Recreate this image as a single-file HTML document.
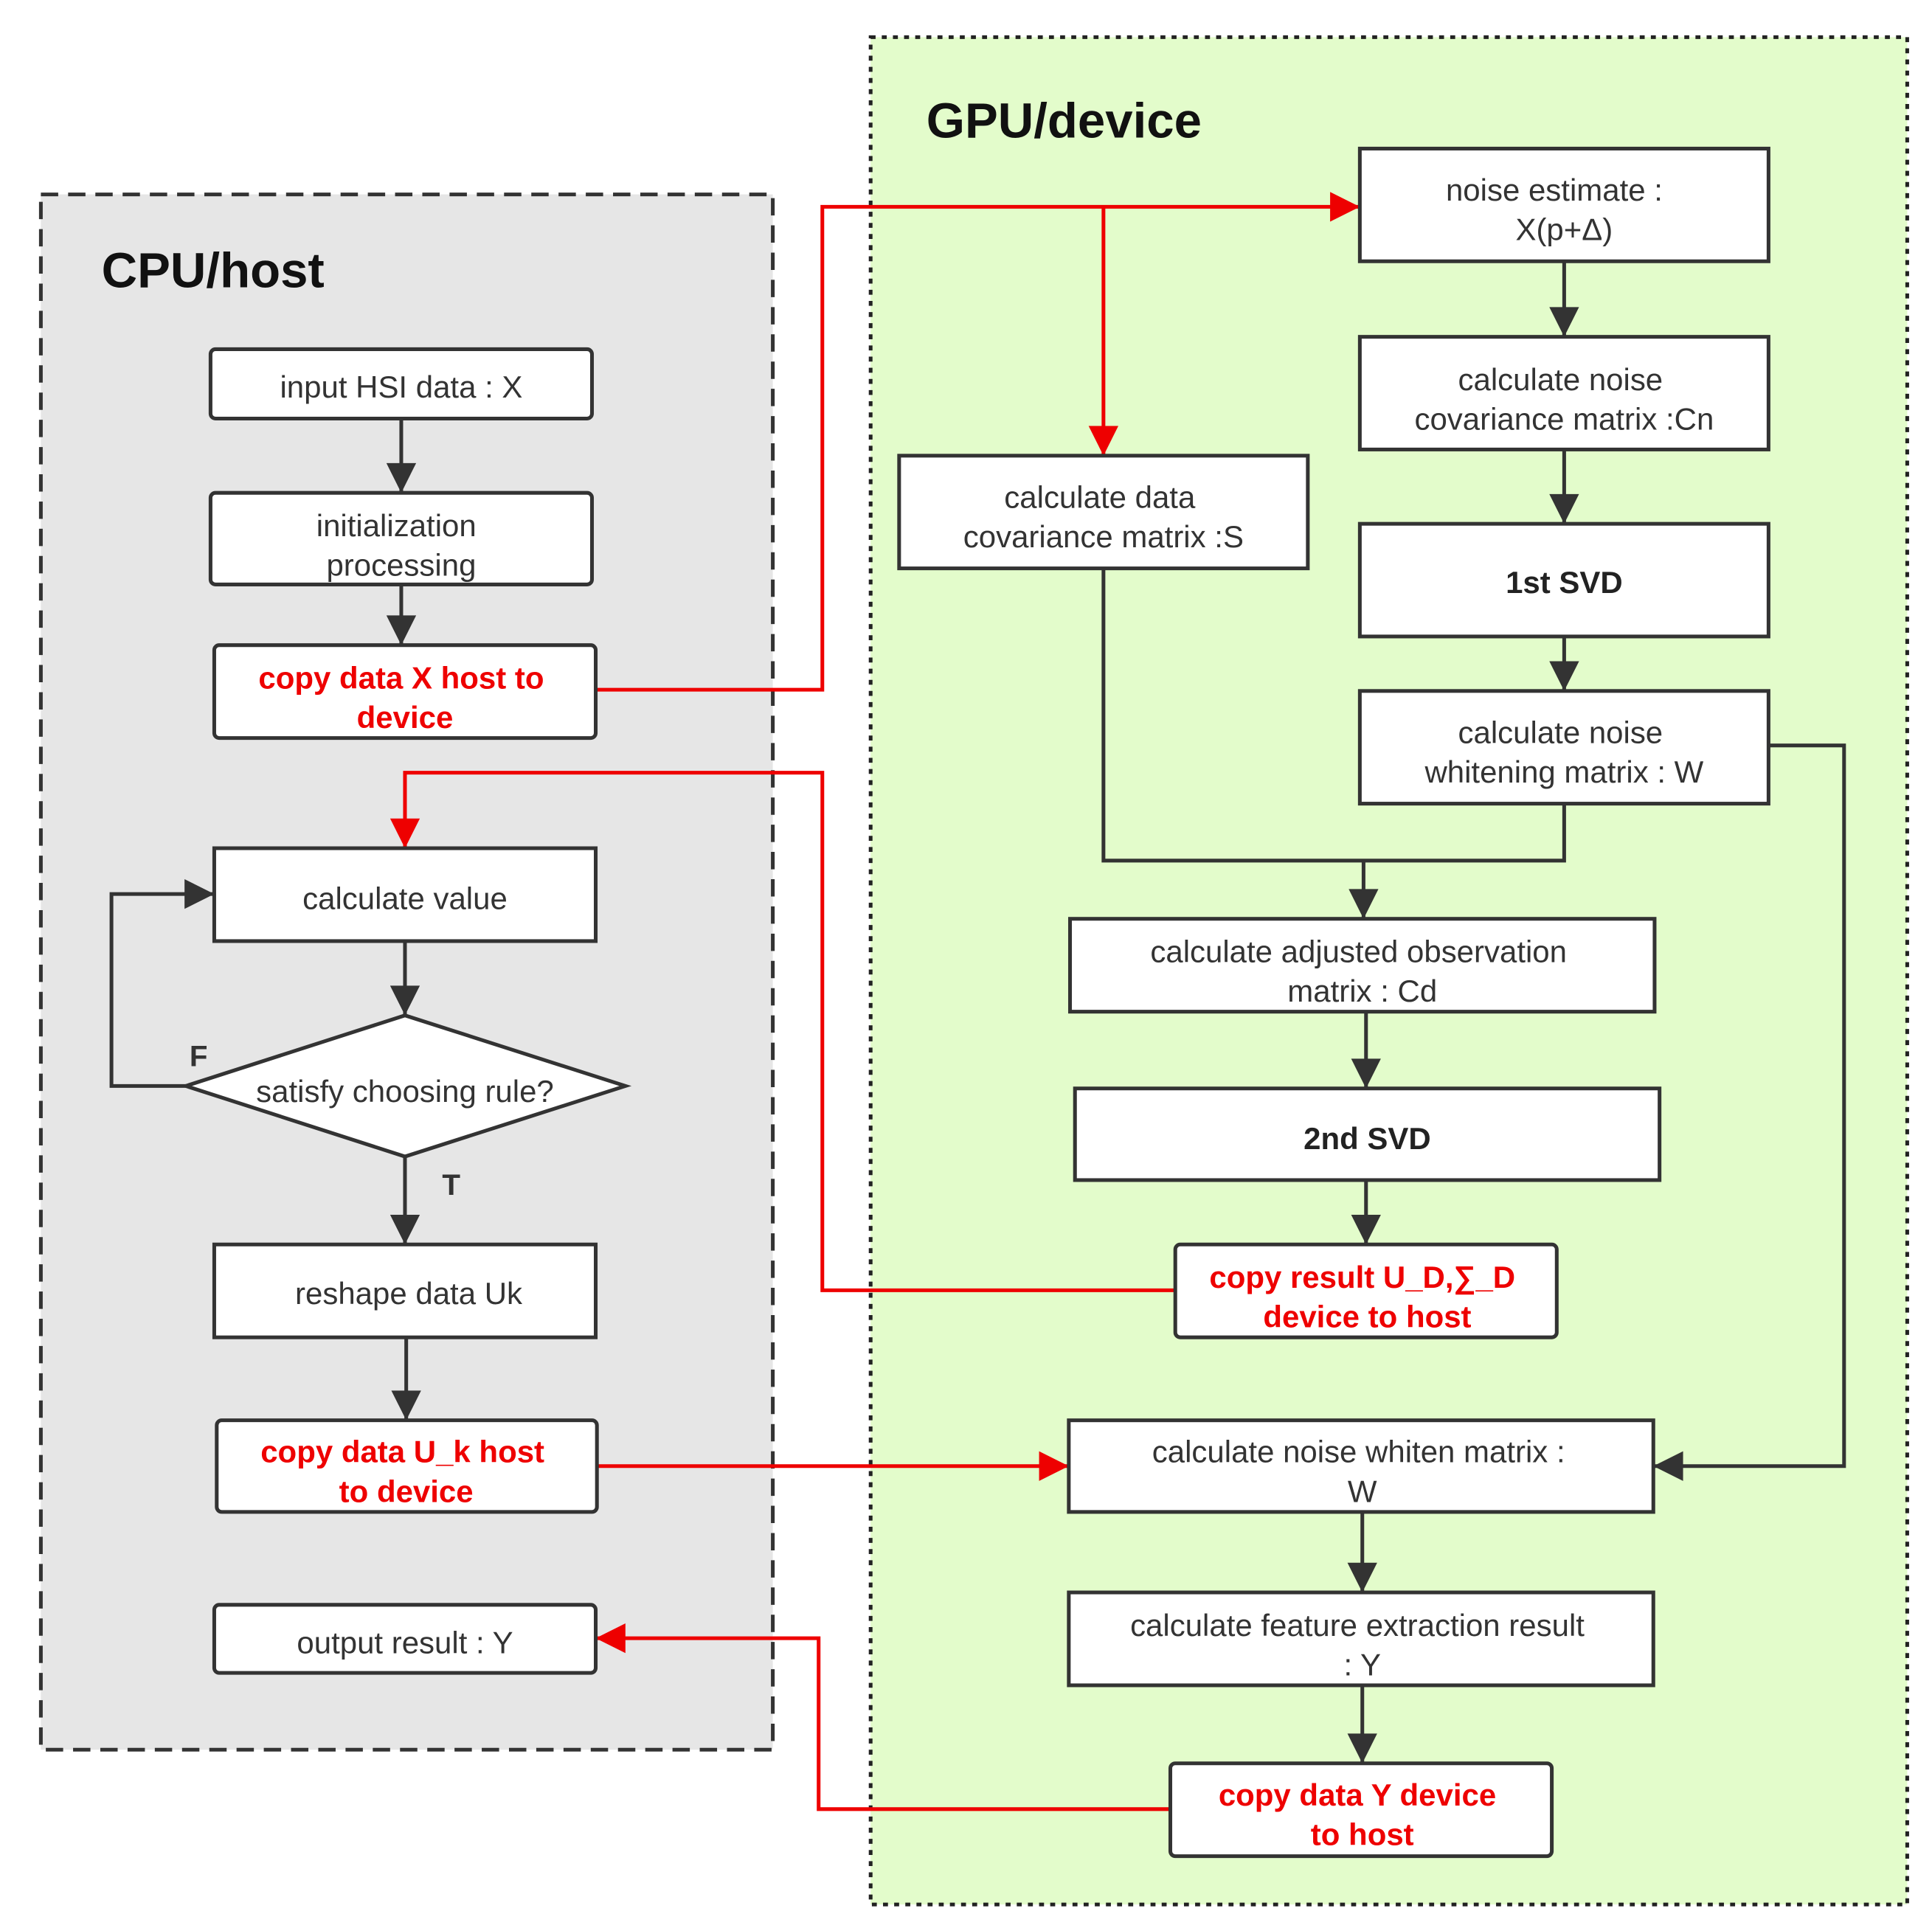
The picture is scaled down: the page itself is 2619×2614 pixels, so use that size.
<!DOCTYPE html>
<html><head><meta charset="utf-8"><style>
html,body{margin:0;padding:0;background:#fff}
svg{display:block}
text{font-family:"Liberation Sans","DejaVu Sans",sans-serif}
.b{fill:#fff;stroke:#333;stroke-width:3}
.t{font-size:25px;fill:#333;text-anchor:middle}
.r{font-size:25px;fill:#e00;font-weight:bold;text-anchor:middle}
.k{font-size:25px;fill:#222;font-weight:bold;text-anchor:middle}
.ld{fill:none;stroke:#333;stroke-width:3}
.lr{fill:none;stroke:#e00;stroke-width:3}
</style></head><body>
<svg width="2619" height="2614" viewBox="0 0 1560 1557" preserveAspectRatio="none" xmlns="http://www.w3.org/2000/svg">
<defs>
<marker id="ad" viewBox="0 0 10 10" refX="9" refY="5" markerWidth="9" markerHeight="9" markerUnits="userSpaceOnUse" orient="auto"><path d="M0,0L10,5L0,10z" fill="#333"/></marker>
<marker id="ar" viewBox="0 0 10 10" refX="9" refY="5" markerWidth="9" markerHeight="9" markerUnits="userSpaceOnUse" orient="auto"><path d="M0,0L10,5L0,10z" fill="#e00"/></marker>
<marker id="AD" viewBox="0 0 10 10" refX="10" refY="5" markerWidth="30" markerHeight="24" markerUnits="userSpaceOnUse" orient="auto"><path d="M0,0L10,5L0,10z" fill="#333"/></marker>
<marker id="AR" viewBox="0 0 10 10" refX="10" refY="5" markerWidth="30" markerHeight="24" markerUnits="userSpaceOnUse" orient="auto"><path d="M0,0L10,5L0,10z" fill="#e00"/></marker>
</defs>
<rect x="33" y="157" width="591" height="1256" fill="#e6e6e6" stroke="#333" stroke-width="3" stroke-dasharray="14,8"/>
<rect x="703" y="30" width="837" height="1508" fill="#e3fccb" stroke="#222" stroke-width="3" stroke-dasharray="4,5"/>
<text x="82" y="232" font-size="40" font-weight="bold" fill="#111">CPU/host</text>
<text x="748" y="111" font-size="40" font-weight="bold" fill="#111">GPU/device</text>

<!-- connectors dark -->
<g class="ld">
<path d="M324,338V398" marker-end="url(#AD)"/>
<path d="M324,472V521" marker-end="url(#AD)"/>
<path d="M327,760V820" marker-end="url(#AD)"/>
<path d="M327,934V1005" marker-end="url(#AD)"/>
<path d="M328,1080V1147" marker-end="url(#AD)"/>
<path d="M150,877H90V722H173" marker-end="url(#AD)"/>
<path d="M1263,211V272" marker-end="url(#AD)"/>
<path d="M1263,363V423" marker-end="url(#AD)"/>
<path d="M1263,514V558" marker-end="url(#AD)"/>
<path d="M891,459V695H1263V649"/>
<path d="M1101,695V742" marker-end="url(#AD)"/>
<path d="M1103,817V879" marker-end="url(#AD)"/>
<path d="M1103,953V1005" marker-end="url(#AD)"/>
<path d="M1428,602H1489V1184H1335" marker-end="url(#AD)"/>
<path d="M1100,1221V1286" marker-end="url(#AD)"/>
<path d="M1100,1361V1424" marker-end="url(#AD)"/>
</g>
<g class="lr">
<path d="M481,557H664V167H1098" marker-end="url(#AR)"/>
<path d="M891,167V368" marker-end="url(#AR)"/>
<path d="M949,1042H664V624H327V685" marker-end="url(#AR)"/>
<path d="M482,1184H863" marker-end="url(#AR)"/>
<path d="M945,1461H661V1323H481" marker-end="url(#AR)"/>
</g>

<!-- left boxes -->
<rect class="b" x="170" y="282" width="308" height="56" rx="4"/>
<text class="t" x="324" y="321">input HSI data : X</text>
<rect class="b" x="170" y="398" width="308" height="74" rx="4"/>
<text class="t" x="320" y="433">initialization</text><text class="t" x="324" y="465">processing</text>
<rect class="b" x="173" y="521" width="308" height="75" rx="4"/>
<text class="r" x="324" y="556">copy data X host to</text><text class="r" x="327" y="588">device</text>
<rect class="b" x="173" y="685" width="308" height="75"/>
<text class="t" x="327" y="734">calculate value</text>
<polygon class="b" points="150,877 327,820 505,877 327,934"/>
<text class="t" x="327" y="890">satisfy choosing rule?</text>
<text x="153" y="861" font-size="24" font-weight="bold" fill="#333">F</text>
<text x="357" y="965" font-size="24" font-weight="bold" fill="#333">T</text>
<rect class="b" x="173" y="1005" width="308" height="75"/>
<text class="t" x="330" y="1053">reshape data Uk</text>
<rect class="b" x="175" y="1147" width="307" height="74" rx="4"/>
<text class="r" x="325" y="1181">copy data U_k host</text><text class="r" x="328" y="1213">to device</text>
<rect class="b" x="173" y="1296" width="308" height="55" rx="4"/>
<text class="t" x="327" y="1335">output result : Y</text>

<!-- right boxes -->
<rect class="b" x="1098" y="120" width="330" height="91"/>
<text class="t" x="1255" y="162">noise estimate   :</text><text class="t" x="1263" y="194">X(p+Δ)</text>
<rect class="b" x="1098" y="272" width="330" height="91"/>
<text class="t" x="1260" y="315">calculate noise</text><text class="t" x="1263" y="347">covariance matrix :Cn</text>
<rect class="b" x="1098" y="423" width="330" height="91"/>
<text class="k" x="1263" y="479">1st SVD</text>
<rect class="b" x="1098" y="558" width="330" height="91"/>
<text class="t" x="1260" y="600">calculate noise</text><text class="t" x="1263" y="632">whitening matrix : W</text>
<rect class="b" x="726" y="368" width="330" height="91"/>
<text class="t" x="888" y="410">calculate data</text><text class="t" x="891" y="442">covariance matrix :S</text>
<rect class="b" x="864" y="742" width="472" height="75"/>
<text class="t" x="1097" y="777">calculate adjusted observation</text><text class="t" x="1100" y="809">matrix : Cd</text>
<rect class="b" x="868" y="879" width="472" height="74"/>
<text class="k" x="1104" y="928">2nd SVD</text>
<rect class="b" x="949" y="1005" width="308" height="75" rx="4"/>
<text class="r" x="1100" y="1040">copy result U_D,∑_D</text><text class="r" x="1104" y="1072">device to host</text>
<rect class="b" x="863" y="1147" width="472" height="74"/>
<text class="t" x="1097" y="1181">calculate noise whiten matrix :</text><text class="t" x="1100" y="1213">W</text>
<rect class="b" x="863" y="1286" width="472" height="75"/>
<text class="t" x="1096" y="1321">calculate  feature extraction result</text><text class="t" x="1100" y="1353">: Y</text>
<rect class="b" x="945" y="1424" width="308" height="75" rx="4"/>
<text class="r" x="1096" y="1458">copy data Y device</text><text class="r" x="1100" y="1490">to host</text>
</svg>
</body></html>
